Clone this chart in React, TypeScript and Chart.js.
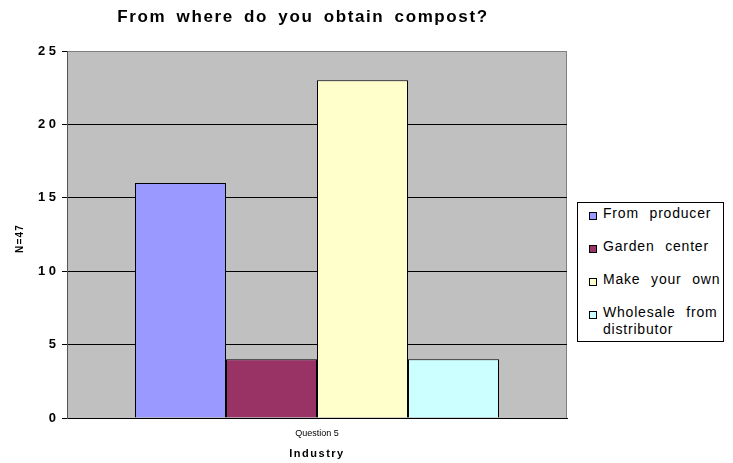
import React, { useEffect, useRef } from 'react';
import { Chart, registerables } from 'chart.js';

Chart.register(...registerables);

const categories = ['Question 5'];
const seriesNames = ['From producer', 'Garden center', 'Make your own', 'Wholesale from distributor'];
const producerValues = [16];
const gardenCenterValues = [4];
const makeOwnValues = [23];
const wholesaleValues = [4];
const seriesColors = ['#9999FF', '#993366', '#FFFFCC', '#CCFFFF'];
const yTickValues = [0, 5, 10, 15, 20, 25];
const titleText = 'From where do you obtain compost?';
const xAxisTitle = 'Industry';
const yAxisTitle = 'N=47';

const FONT = '"Liberation Sans", Arial, sans-serif';

const decorPlugin = {
  id: 'decor',
  beforeDraw(chart: any) {
    const { ctx, chartArea: a } = chart;
    ctx.save();
    ctx.fillStyle = '#C0C0C0';
    ctx.fillRect(a.left, a.top, a.right - a.left, a.bottom - a.top);
    ctx.strokeStyle = '#808080';
    ctx.lineWidth = 1;
    ctx.beginPath();
    ctx.moveTo(Math.round(a.right) - 0.5, a.top);
    ctx.lineTo(Math.round(a.right) - 0.5, a.bottom);
    ctx.stroke();
    ctx.restore();
  },
  afterDraw(chart: any) {
    const { ctx, chartArea: a } = chart;
    ctx.save();
    ctx.fillStyle = '#000';
    // title
    ctx.font = `bold 17px ${FONT}`;
    (ctx as any).letterSpacing = '1.6px';
    (ctx as any).wordSpacing = '4px';
    ctx.textAlign = 'center';
    ctx.textBaseline = 'alphabetic';
    ctx.fillText(titleText, 303, 22);
    // x axis title
    ctx.font = `bold 11px ${FONT}`;
    (ctx as any).letterSpacing = '1.5px';
    (ctx as any).wordSpacing = '0px';
    ctx.fillText(xAxisTitle, (a.left + a.right) / 2, 457);
    // y axis title
    ctx.translate(20, (a.top + a.bottom) / 2 + 4);
    ctx.rotate(-Math.PI / 2);
    ctx.font = `bold 10px ${FONT}`;
    (ctx as any).letterSpacing = '1.2px';
    ctx.textBaseline = 'middle';
    ctx.fillText(yAxisTitle, 0, 0);
    ctx.restore();
  },
};

function ChartView() {
  const ref = useRef<HTMLCanvasElement>(null);
  useEffect(() => {
    if (!ref.current) return;
    const seriesData = [producerValues, gardenCenterValues, makeOwnValues, wholesaleValues];
    const chart = new Chart(ref.current, {
      type: 'bar',
      data: {
        labels: categories,
        datasets: seriesNames.map((name, i) => ({
          label: name,
          data: seriesData[i],
          backgroundColor: seriesColors[i],
          borderColor: '#000000',
          borderWidth: 1,
          categoryPercentage: 0.728,
          barPercentage: 1,
        })),
      },
      options: {
        responsive: false,
        animation: false,
        devicePixelRatio: 1,
        layout: { padding: { top: 51, right: 166, left: 0, bottom: 0 } },
        plugins: {
          legend: { display: false },
          title: { display: false },
          tooltip: { enabled: false },
        },
        scales: {
          x: {
            grid: { display: false, drawTicks: false },
            border: { display: true, color: '#000000', width: 1 },
            ticks: {
              font: { family: FONT, size: 9 },
              color: '#000000',
              padding: 10,
            },
            afterFit(scale: any) {
              scale.height = 45;
            },
          },
          y: {
            min: 0,
            max: 25,
            afterBuildTicks(scale: any) {
              scale.ticks = yTickValues.map((v) => ({ value: v }));
            },
            grid: {
              color: (c: any) => (c.tick && c.tick.value === 25 ? '#808080' : '#000000'),
              tickColor: '#000000',
              tickLength: 5,
              drawTicks: true,
            },
            border: { display: true, color: '#555555', width: 1 },
            ticks: {
              font: { family: FONT, size: 13, weight: 'bold' },
              color: '#000000',
              padding: 6,
              callback: (v: any) => String(v).split('').join(' '),
            },
            afterFit(scale: any) {
              scale.width = 67;
            },
          },
        },
      } as any,
      plugins: [decorPlugin],
    });
    return () => chart.destroy();
  }, []);
  return <canvas ref={ref} width={733} height={463} style={{ display: 'block', width: 733, height: 463 }} />;
}

function Legend() {
  return (
    <div
      style={{
        position: 'absolute',
        left: 577,
        top: 202,
        width: 147,
        boxSizing: 'border-box',
        border: '1px solid #000',
        background: '#fff',
        padding: '2px 0 3px 0',
        fontFamily: FONT,
        fontSize: 14,
        lineHeight: '17px',
        letterSpacing: '0.8px',
        wordSpacing: '6px',
        color: '#000',
      }}
    >
      {seriesNames.map((name, i) => (
        <div
          key={name}
          style={{
            position: 'relative',
            paddingLeft: 25,
            marginBottom: i < seriesNames.length - 1 ? 16 : 0,
          }}
        >
          <span
            style={{
              position: 'absolute',
              left: 11,
              top: 7,
              width: 8,
              height: 8,
              boxSizing: 'border-box',
              border: '1px solid #000',
              background: seriesColors[i],
            }}
          />
          {name}
        </div>
      ))}
    </div>
  );
}

export default function App() {
  return (
    <div style={{ position: 'fixed', left: 0, top: 0, width: 733, height: 463, background: '#fff' }}>
      <ChartView />
      <Legend />
    </div>
  );
}
